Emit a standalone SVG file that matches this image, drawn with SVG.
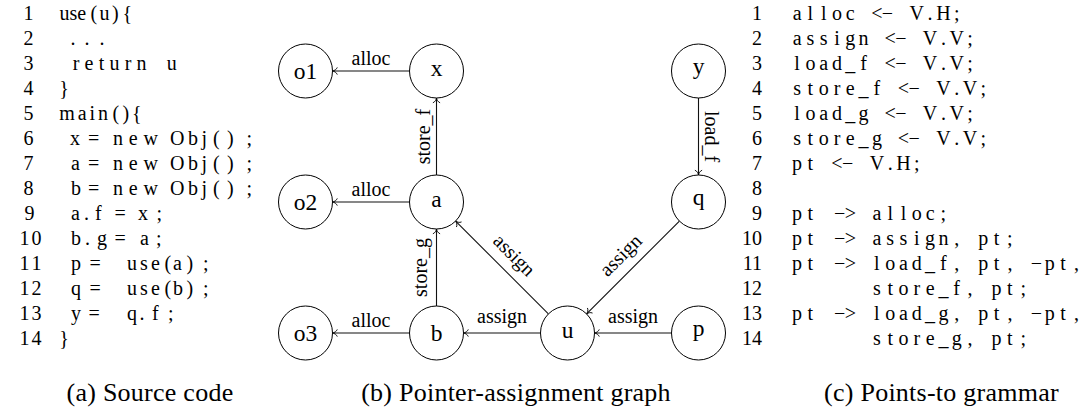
<svg xmlns="http://www.w3.org/2000/svg" width="1086" height="413" viewBox="0 0 1086 413" font-family="'Liberation Serif', 'DejaVu Serif', serif">
<style>
text{font-family:"Liberation Serif","DejaVu Serif",serif;fill:#000}
.code{font-size:20px;white-space:pre}
.num{font-size:20px;text-anchor:middle}
.gnum{font-size:20px;text-anchor:end}
.gram{font-size:20px;text-anchor:middle;white-space:pre}
.cap{font-size:26px;letter-spacing:0.25px;text-anchor:middle}
.nl{font-size:23.5px;text-anchor:middle}
.el{font-size:20px;text-anchor:middle}
circle{fill:#fff;stroke:#000;stroke-width:1}
.edge{fill:none;stroke:#111;stroke-width:1.1;marker-end:url(#arr)}
</style>
<defs>
<marker id="arr" viewBox="-6 -5 7 10" refX="0" refY="0" markerWidth="7" markerHeight="10" markerUnits="userSpaceOnUse" orient="auto">
<path d="M-4.8,-3.6 C-4,-1.4 -1.6,-0.3 0,0 C-1.6,0.3 -4,1.4 -4.8,3.6" fill="none" stroke="#000" stroke-width="0.9"/>
</marker>
</defs>

<g id="code">
<g class="lnums">
<text class="num" x="28.5" y="19.5">1</text>
<text class="num" x="28.5" y="44.5">2</text>
<text class="num" x="28.5" y="69.6">3</text>
<text class="num" x="28.5" y="94.7">4</text>
<text class="num" x="28.5" y="119.7">5</text>
<text class="num" x="28.5" y="144.8">6</text>
<text class="num" x="28.5" y="169.8">7</text>
<text class="num" x="28.5" y="194.9">8</text>
<text class="num" x="29.5" y="219.9">9</text>
<text class="num" x="24.5 36.5" y="245">10</text>
<text class="num" x="24.5 36.5" y="270">11</text>
<text class="num" x="24.5 36.5" y="295.1">12</text>
<text class="num" x="24.5 36.5" y="320.1">13</text>
<text class="num" x="24.5 36.5" y="345.2">14</text>
</g>
<text class="code" xml:space="preserve" x="59.5 69.5 77.3 90.5 99.5 112 122.5" y="19.5">use(u){</text>
<text class="code" xml:space="preserve" x="70.5 84.5 99.5" y="44.5">...</text>
<text class="code" xml:space="preserve" x="72.7 84.6 98.7 109.5 124.7 136.6 150 166.7" y="69.6">return u</text>
<text class="code" x="59.3" y="94.7">}</text>
<text class="code" xml:space="preserve" x="59.3 77.8 89.6 98.1 112.5 122.5 132" y="119.7">main(){</text>
<text class="code" xml:space="preserve" x="70 80 88 100 113 128.8 143.5 160 170 187.9 201.4 213 227 246.5" y="144.8">x = new Obj();</text>
<text class="code" xml:space="preserve" x="71 80 88 100 113 128.8 143.5 160 170 187.9 201.4 213 227 246.5" y="169.8">a = new Obj();</text>
<text class="code" xml:space="preserve" x="71 80 88 100 113 128.8 143.5 160 170 187.9 201.4 213 227 246.5" y="194.9">b = new Obj();</text>
<text class="code" xml:space="preserve" x="71 84 95 103 114.5 127 138 156.5" y="219.9">a.f = x;</text>
<text class="code" xml:space="preserve" x="71 85 97 108 114.5 127 140 156" y="245">b.g = a;</text>
<text class="code" xml:space="preserve" x="71 82 89.5 102 127 140.1 151 164.5 173 186.5 203" y="270">p = use(a);</text>
<text class="code" xml:space="preserve" x="71 82 89.5 102 127 140.1 151 164.5 173 186.5 203" y="295.1">q = use(b);</text>
<text class="code" xml:space="preserve" x="71 82 88.5 102 127 139.5 152 168" y="320.1">y = q.f;</text>
<text class="code" x="59.3" y="345.2">}</text>
</g>

<g id="connectors">
<path id="e-x-o1" class="edge" d="M409.5,71 L332.5,71"/>
<path id="e-a-o2" class="edge" d="M409.5,202 L332.5,202"/>
<path id="e-b-o3" class="edge" d="M409.5,333 L332.5,333"/>
<path id="e-a-x" class="edge" d="M436.5,175 L436.5,98"/>
<path id="e-b-a" class="edge" d="M436.5,306 L436.5,229"/>
<path id="e-u-b" class="edge" d="M540.5,333 L463.5,333"/>
<path id="e-p-u" class="edge" d="M671.5,333 L594.5,333"/>
<path id="e-u-a" class="edge" d="M548.4,313.9 L455.6,221.1"/>
<path id="e-q-u" class="edge" d="M679.4,221.1 L586.6,313.9"/>
<path id="e-y-q" class="edge" d="M698.5,98 L698.5,175"/>
<text class="el" x="371" y="64.5">alloc</text>
<text class="el" x="371" y="195.5">alloc</text>
<text class="el" x="371" y="326.5">alloc</text>
<text class="el" x="502" y="322.5">assign</text>
<text class="el" x="633" y="322.5">assign</text>
<text class="el" transform="translate(429.5,136.5) rotate(-90)">store_f</text>
<text class="el" transform="translate(426.5,267.5) rotate(-90)">store_g</text>
<text class="el" transform="translate(705,136.5) rotate(90)">load_f</text>
<text class="el" transform="translate(509.7,259.8) rotate(45)">assign</text>
<text class="el" transform="translate(625.3,259.8) rotate(-45)">assign</text>
</g>

<g id="node-o1"><circle cx="305.5" cy="71" r="27"/><text class="nl" x="305.5" y="79">o1</text></g>
<g id="node-x"><circle cx="436.5" cy="71" r="27"/><text class="nl" x="436.5" y="76.4">x</text></g>
<g id="node-y"><circle cx="698.5" cy="71" r="27"/><text class="nl" x="698.5" y="73.9">y</text></g>
<g id="node-o2"><circle cx="305.5" cy="202" r="27"/><text class="nl" x="305.5" y="210">o2</text></g>
<g id="node-a"><circle cx="436.5" cy="202" r="27"/><text class="nl" x="436.5" y="207.4">a</text></g>
<g id="node-q"><circle cx="698.5" cy="202" r="27"/><text class="nl" x="698.5" y="204.9">q</text></g>
<g id="node-o3"><circle cx="305.5" cy="333" r="27"/><text class="nl" x="305.5" y="341">o3</text></g>
<g id="node-b"><circle cx="436.5" cy="333" r="27"/><text class="nl" x="436.5" y="340.5">b</text></g>
<g id="node-u"><circle cx="567.5" cy="333" r="27"/><text class="nl" x="567.5" y="338.4">u</text></g>
<g id="node-p"><circle cx="698.5" cy="333" r="27"/><text class="nl" x="698.5" y="335.9">p</text></g>

<g id="grammar">
<text class="gnum" x="762" y="19.5">1</text>
<text class="gnum" x="762" y="44.5">2</text>
<text class="gnum" x="762" y="69.6">3</text>
<text class="gnum" x="762" y="94.7">4</text>
<text class="gnum" x="762" y="119.7">5</text>
<text class="gnum" x="762" y="144.8">6</text>
<text class="gnum" x="762" y="169.8">7</text>
<text class="gnum" x="762" y="194.9">8</text>
<text class="gnum" x="762" y="219.9">9</text>
<text class="gnum" x="762" y="245">10</text>
<text class="gnum" x="762" y="270">11</text>
<text class="gnum" x="762" y="295.1">12</text>
<text class="gnum" x="762" y="320.1">13</text>
<text class="gnum" x="762" y="345.2">14</text>
<text class="gram" xml:space="preserve" x="797.1 810.4 823.7 837 850.3 863.6 876.9 887.5 903.5 916.8 930.1 943.4 956.7" y="19.5">alloc &lt;− V.H;</text>
<text class="gram" xml:space="preserve" x="797.1 810.4 823.7 837 850.3 863.6 876.9 890.2 900.8 916.8 930.1 943.4 956.7 970" y="44.5">assign &lt;− V.V;</text>
<text class="gram" xml:space="preserve" x="797.1 810.4 823.7 837 850.3 863.6 876.9 890.2 900.8 916.8 930.1 943.4 956.7 970" y="69.6">load_f &lt;− V.V;</text>
<text class="gram" xml:space="preserve" x="797.1 810.4 823.7 837 850.3 863.6 876.9 890.2 903.5 914.1 930.1 943.4 956.7 970 983.3" y="94.7">store_f &lt;− V.V;</text>
<text class="gram" xml:space="preserve" x="797.1 810.4 823.7 837 850.3 863.6 876.9 890.2 900.8 916.8 930.1 943.4 956.7 970" y="119.7">load_g &lt;− V.V;</text>
<text class="gram" xml:space="preserve" x="797.1 810.4 823.7 837 850.3 863.6 876.9 890.2 903.5 914.1 930.1 943.4 956.7 970 983.3" y="144.8">store_g &lt;− V.V;</text>
<text class="gram" xml:space="preserve" x="797.1 810.4 823.7 837 847.6 863.6 876.9 890.2 903.5 916.8" y="169.8">pt &lt;− V.H;</text>
<text class="gram" xml:space="preserve" x="797.1 810.4 823.7 839.6 850.3 863.6 876.9 890.2 903.5 916.8 930.1 943.4" y="219.9">pt −&gt; alloc;</text>
<text class="gram" xml:space="preserve" x="797.1 810.4 823.7 839.6 850.3 863.6 876.9 890.2 903.5 916.8 930.1 943.4 956.7 970 983.3 996.6 1009.9" y="245">pt −&gt; assign, pt;</text>
<text class="gram" xml:space="preserve" x="797.1 810.4 823.7 839.6 850.3 863.6 876.9 890.2 903.5 916.8 930.1 943.4 956.7 970 983.3 996.6 1009.9 1023.2 1036.5 1049.8 1063.1 1076.4" y="270">pt −&gt; load_f, pt, −pt,</text>
<text class="gram" xml:space="preserve" x="876.9 890.2 903.5 916.8 930.1 943.4 956.7 970 983.3 996.6 1009.9 1023.2" y="295.1">store_f, pt;</text>
<text class="gram" xml:space="preserve" x="797.1 810.4 823.7 839.6 850.3 863.6 876.9 890.2 903.5 916.8 930.1 943.4 956.7 970 983.3 996.6 1009.9 1023.2 1036.5 1049.8 1063.1 1076.4" y="320.1">pt −&gt; load_g, pt, −pt,</text>
<text class="gram" xml:space="preserve" x="876.9 890.2 903.5 916.8 930.1 943.4 956.7 970 983.3 996.6 1009.9 1023.2" y="345.2">store_g, pt;</text>
</g>

<g id="captions">
<text class="cap" x="150" y="401">(a) Source code</text>
<text class="cap" x="516" y="401">(b) Pointer-assignment graph</text>
<text class="cap" x="941.5" y="401">(c) Points-to grammar</text>
</g>
</svg>
